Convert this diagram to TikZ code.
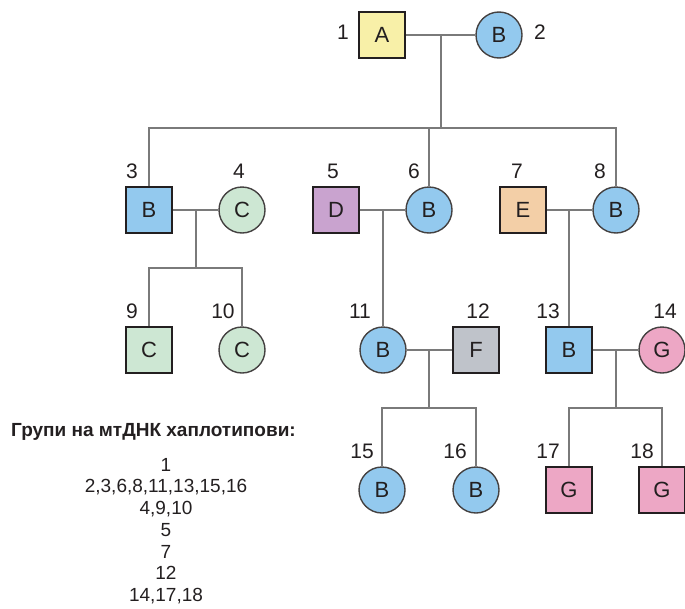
\documentclass[tikz,border=0pt]{standalone}
\usepackage{fontspec}
\setmainfont{Liberation Sans}
\definecolor{ink}{HTML}{231F20}
\definecolor{linegray}{HTML}{7A7A7A}
\definecolor{hA}{HTML}{F8F0A8}
\definecolor{hB}{HTML}{93C9EE}
\definecolor{hC}{HTML}{CDE7D3}
\definecolor{hD}{HTML}{C9A3CF}
\definecolor{hE}{HTML}{F3CFA7}
\definecolor{hF}{HTML}{BFC3CA}
\definecolor{hG}{HTML}{EDA7C5}
\tikzset{
  person/.style={text=ink, inner sep=0pt, font=\fontsize{22}{22}\selectfont},
  male/.style={person, rectangle, draw=ink, line width=2.4pt, minimum size=46pt},
  female/.style={person, circle, draw=ink!85, line width=1.4pt, minimum size=46pt},
  num/.style={text=ink, inner sep=0pt, font=\fontsize{21}{21}\selectfont},
  link/.style={draw=linegray, line width=1.6pt},
}
\begin{document}
\begin{tikzpicture}[x=1pt, y=-1pt]
\useasboundingbox (0,0) rectangle (685,608);

% pedigree members
\node[male,   fill=hA] (n1)  at (382,35)  {A};
\node[female, fill=hB] (n2)  at (499,35)  {B};
\node[male,   fill=hB] (n3)  at (149,210) {B};
\node[female, fill=hC] (n4)  at (242,210) {C};
\node[male,   fill=hD] (n5)  at (336,210) {D};
\node[female, fill=hB] (n6)  at (429,210) {B};
\node[male,   fill=hE] (n7)  at (523,210) {E};
\node[female, fill=hB] (n8)  at (616,210) {B};
\node[male,   fill=hC] (n9)  at (149,350) {C};
\node[female, fill=hC] (n10) at (242,350) {C};
\node[female, fill=hB] (n11) at (383,350) {B};
\node[male,   fill=hF] (n12) at (476,350) {F};
\node[male,   fill=hB] (n13) at (569,350) {B};
\node[female, fill=hG] (n14) at (662,350) {G};
\node[female, fill=hB] (n15) at (382,490) {B};
\node[female, fill=hB] (n16) at (476,490) {B};
\node[male,   fill=hG] (n17) at (569,490) {G};
\node[male,   fill=hG] (n18) at (662,490) {G};

% member numbers
\node[num] (l1)  at (343,32)  {1};
\node[num] (l2)  at (540,32)  {2};
\node[num] (l3)  at (132,171) {3};
\node[num] (l4)  at (239,171) {4};
\node[num] (l5)  at (333,171) {5};
\node[num] (l6)  at (414,171) {6};
\node[num] (l7)  at (517,171) {7};
\node[num] (l8)  at (600,171) {8};
\node[num] (l9)  at (132,311) {9};
\node[num] (l10) at (223,311) {10};
\node[num] (l11) at (360,311) {11};
\node[num] (l12) at (478,311) {12};
\node[num] (l13) at (548,311) {13};
\node[num] (l14) at (665,311) {14};
\node[num] (l15) at (362,451) {15};
\node[num] (l16) at (455,451) {16};
\node[num] (l17) at (548,451) {17};
\node[num] (l18) at (642,451) {18};

% couple and sibship points
\coordinate (m12)   at (441,35);
\coordinate (s12)   at (441,128);
\coordinate (m34)   at (196,210);
\coordinate (s34)   at (196,268);
\coordinate (m56)   at (383,210);
\coordinate (m78)   at (569,210);
\coordinate (m1112) at (429,350);
\coordinate (s1112) at (429,408);
\coordinate (m1314) at (616,350);
\coordinate (s1314) at (616,408);

% marriage lines
\draw[link] (n1.east) -- (n2.west);
\draw[link] (n3.east) -- (n4.west);
\draw[link] (n5.east) -- (n6.west);
\draw[link] (n7.east) -- (n8.west);
\draw[link] (n11.east) -- (n12.west);
\draw[link] (n13.east) -- (n14.west);

% descent lines
\draw[link] (m12) -- (s12);
\draw[link] (n3.north) |- (s12) -| (n8.north);
\draw[link] (n6.north) -- (n6.north |- s12);
\draw[link] (m34) -- (s34);
\draw[link] (n9.north) |- (s34) -| (n10.north);
\draw[link] (m56) -- (n11.north);
\draw[link] (m78) -- (n13.north);
\draw[link] (m1112) -- (s1112);
\draw[link] (n15.north) |- (s1112) -| (n16.north);
\draw[link] (m1314) -- (s1314);
\draw[link] (n17.north) |- (s1314) -| (n18.north);

% haplotype groups
\node[anchor=west, text=ink, inner sep=0pt, font=\fontsize{19}{19}\selectfont\bfseries]
  (title) at (11,432) {Групи на мтДНК хаплотипови:};
\node[anchor=north, text=ink, inner sep=0pt, align=center,
      font=\fontsize{19}{21.7}\selectfont] (groups) at (166,458)
  {1\\2,3,6,8,11,13,15,16\\4,9,10\\5\\7\\12\\14,17,18};
\end{tikzpicture}
\end{document}
